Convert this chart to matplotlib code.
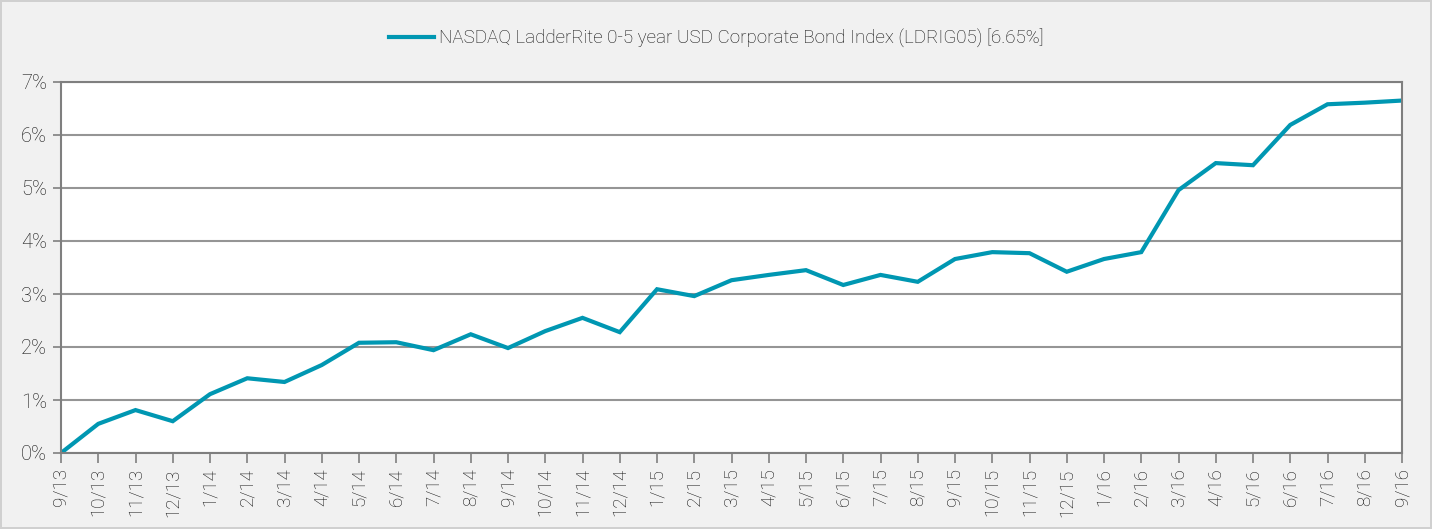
import matplotlib.pyplot as plt
from matplotlib.ticker import FuncFormatter

dates = ["9/13", "10/13", "11/13", "12/13", "1/14", "2/14", "3/14", "4/14", "5/14", "6/14",
         "7/14", "8/14", "9/14", "10/14", "11/14", "12/14", "1/15", "2/15", "3/15", "4/15",
         "5/15", "6/15", "7/15", "8/15", "9/15", "10/15", "11/15", "12/15", "1/16", "2/16",
         "3/16", "4/16", "5/16", "6/16", "7/16", "8/16", "9/16"]
ldrig05 = [0.00, 0.55, 0.81, 0.60, 1.11, 1.41, 1.34, 1.66, 2.08, 2.09,
           1.94, 2.24, 1.98, 2.30, 2.55, 2.28, 3.09, 2.96, 3.26, 3.36,
           3.45, 3.17, 3.36, 3.23, 3.66, 3.79, 3.77, 3.42, 3.66, 3.79,
           4.96, 5.47, 5.43, 6.19, 6.58, 6.61, 6.65]
label = "NASDAQ LadderRite 0-5 year USD Corporate Bond Index (LDRIG05) [6.65%]"

plt.rcParams['font.family'] = ['Roboto', 'DejaVu Sans']
plt.rcParams['font.weight'] = 'light'

fig = plt.figure(figsize=(14.32, 5.29), dpi=100, facecolor='#f1f1f1')
fig.patch.set_edgecolor('#d0d0d0')
fig.patch.set_linewidth(1.5)
ax = fig.add_axes([61/1432, 76/529, 1341/1432, 371/529])
ax.set_facecolor('white')

x = list(range(len(dates)))
ax.plot(x, ldrig05, color='#0097b2', lw=3, label=label, solid_joinstyle='miter')

ax.set_xlim(0, len(dates) - 1)
ax.set_ylim(0, 7)
ax.set_yticks(range(0, 8))
ax.yaxis.set_major_formatter(FuncFormatter(lambda v, p: f"{int(v)}%"))
ax.set_xticks(x)
ax.set_xticklabels(dates, rotation=90)
ax.grid(axis='y', color='#959595', lw=1.5)
ax.set_axisbelow(True)
for s in ax.spines.values():
    s.set_color('#7f7f7f')
    s.set_linewidth(1.5)
ax.tick_params(axis='x', length=7, width=1.2, color='#7f7f7f', labelsize=13.5, labelcolor='#111111', pad=4)
ax.tick_params(axis='y', length=6, width=1.2, color='#7f7f7f', labelsize=14.5, labelcolor='#111111', pad=4)

leg = fig.legend(loc='center', bbox_to_anchor=(0.5, 1 - 38/529), frameon=False,
                 fontsize=13.5, handlelength=2.4, handletextpad=0.25)
for t in leg.get_texts():
    t.set_color('#111111')

fig.savefig('out.png', dpi=100, facecolor=fig.get_facecolor(), edgecolor=fig.get_edgecolor())
